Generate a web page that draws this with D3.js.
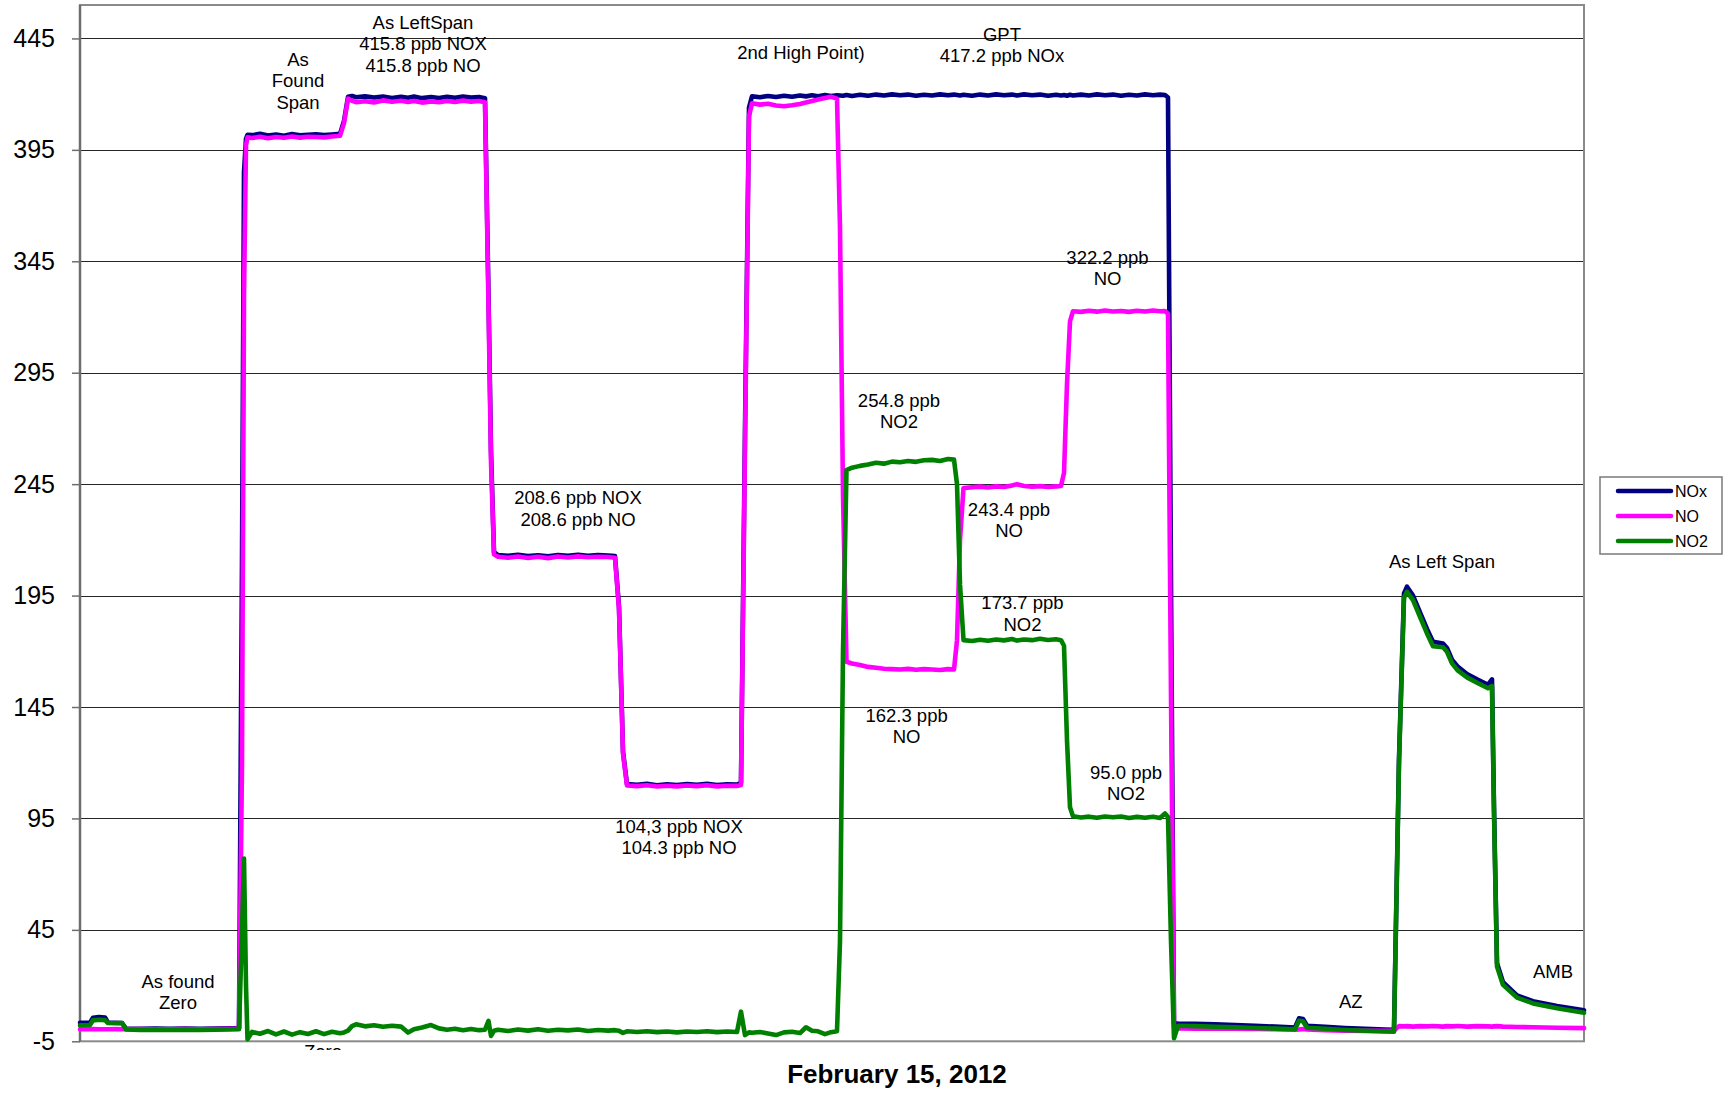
<!DOCTYPE html>
<html><head><meta charset="utf-8">
<script src="https://cdn.jsdelivr.net/npm/d3@7"></script>
<style>
body{margin:0;background:#fff}
svg{display:block}
text{font-family:"Liberation Sans",Arial,Helvetica,sans-serif}
</style>
</head><body>
<svg id="chart" width="1723" height="1093"></svg>
<script>
// ---- data (logger sample number, ppb) ----
const sampleNo = [
 0,10,13,19,25,28,36,42,46,60,75,90,105,120,135,150,159,
 162,164,166,167.5,
 172,180,188,196,204,212,220,228,236,244,252,260,
 264,268,
 272,276,285,294,303,312,321,328,334,342,351,359,367,375,383,391,399,405,
 408.5,411,414,
 418,428,438,448,458,468,478,488,498,508,518,528,535,
 539,543,547,
 557,567,577,587,597,607,617,627,637,647,657,
 661,665,669,
 672,680,688,696,704,712,720,726,732,738,745,751,757,
 760,763,766.5,
 772,780,788,796,804,812,820,828,836,844,852,860,868,874,
 877,880,883.5,
 892,900,908,916,924,932,937,944,952,960,968,976,981,
 984,987,990,993,
 1001,1009,1017,1025,1033,1041,1049,1057,1065,1073,1080,1085,1088,
 1091,1094,1098,
 1115,1135,1155,1175,1195,1215,
 1219,1223,1227,
 1245,1265,1285,1305,1314,
 1319,1324,1327,
 1333,1340,1347,1353,1363,1367,1372,1378,1387,1397,1408,1412,
 1414,1417,1423,1437,1453,1477,1504
];
const noxValues = [
 3.3,3.4,5.6,5.9,5.7,3.4,3.3,3.2,0.7,0.6,0.7,0.6,0.7,0.6,0.7,0.8,0.9,
 210,385,400,401.8,
 401.6,402.2,401.4,401.9,401.3,402.1,401.5,401.8,402.0,401.6,401.9,402.2,
 408,418.8,
 419.2,418.6,419.0,418.5,418.9,418.3,418.8,418.4,418.9,418.2,418.7,418.3,418.8,418.4,418.9,418.5,418.7,418.2,
 330,260,214.5,
 213.2,212.8,213.3,212.7,213.1,212.6,213.2,212.8,213.3,212.9,213.2,213.0,212.7,
 190,125,110.4,
 110.1,110.5,109.9,110.3,110.0,110.4,110.1,110.5,110.0,110.3,110.2,
 111,270,414,
 419.0,418.6,419.2,418.7,419.3,418.8,419.4,419.0,419.5,419.1,419.6,419.2,419.5,
 419.4,419.3,419.6,
 419.2,419.7,419.3,419.8,419.4,419.9,419.5,419.8,419.3,419.7,419.4,419.9,419.5,419.8,
 419.6,419.4,419.7,
 419.3,419.8,419.4,419.9,419.5,419.8,419.4,419.9,419.5,419.8,419.3,419.7,419.4,
 419.6,419.3,419.7,419.4,
 419.8,419.4,419.9,419.5,419.8,419.3,419.7,419.4,419.9,419.5,419.8,419.6,418.5,
 200,3.2,3.0,
 2.8,2.6,2.3,2.0,1.6,1.2,
 5.3,5.0,2.0,
 1.5,1.0,0.6,0.3,0.2,
 122,196,199.0,
 195.0,187.5,180.0,174.3,173.5,171.5,166.2,163.0,159.8,157.4,155.0,157.4,
 100,30.0,21.5,15.6,13.0,10.8,8.9
];
const noValues = [
 0.4,0.4,0.5,0.4,0.4,0.4,0.5,0.4,0.4,0.5,0.4,0.4,0.5,0.4,0.5,0.6,0.6,
 120,330,397,400.6,
 400.3,400.9,400.2,400.8,400.4,401.0,400.5,400.9,400.8,400.6,401.0,401.3,
 407,418.0,
 417.0,416.4,416.8,416.3,417.2,416.6,417.0,416.5,416.9,416.2,416.7,416.4,416.9,416.5,417.1,416.6,416.9,416.4,
 325,255,213.5,
 212.4,212.0,212.5,211.9,212.4,211.8,212.5,212.1,212.6,212.2,212.4,212.3,212.0,
 189,124,109.8,
 109.5,109.9,109.3,109.7,109.4,109.8,109.5,109.9,109.4,109.7,109.6,
 110,262,410,
 415.9,415.3,415.7,414.9,414.6,415.0,415.6,416.3,416.9,417.6,418.3,418.8,418.0,
 360,240,165.3,
 164.5,163.8,163.0,162.6,162.2,162.0,161.8,162.1,161.7,162.0,161.8,161.6,162.0,161.8,
 175,220,243.2,
 243.6,243.9,243.5,244.0,243.7,244.4,245.0,244.2,243.8,244.1,243.7,244.0,244.2,
 250,290,318,322.6,
 322.3,322.8,322.4,322.9,322.5,322.7,322.3,322.8,322.5,322.9,322.6,322.7,321.5,
 150,1.0,0.8,
 0.7,0.6,0.6,0.5,0.4,0.2,
 0.3,0.5,0.3,
 0.0,-0.2,-0.3,-0.3,-0.2,
 1.8,1.7,1.8,
 1.6,1.8,1.7,1.9,1.6,1.8,1.7,1.9,1.6,1.8,1.7,1.6,
 1.7,1.8,1.6,1.4,1.3,1.1,0.9
];
const no2Values = [
 2.2,2.3,4.4,4.7,4.5,3.2,3.1,3.2,0.3,0.1,0.2,0.1,0.2,0.1,0.2,0.3,0.4,
 45,77,20,-4.1,
 -0.8,-1.6,-0.4,-1.9,-0.6,-2.0,-0.9,-1.7,-0.5,-1.8,-0.7,-1.4,
 -1.0,-0.2,
 1.8,2.6,1.7,2.2,1.5,2.0,1.6,-1.1,0.4,1.2,2.3,0.8,0.2,0.6,0.0,0.5,0.0,0.2,
 4.2,-2.6,-0.3,
 0.2,-0.4,0.3,-0.2,0.4,-0.3,0.2,-0.1,0.3,-0.4,0.1,-0.2,0.0,
 -0.3,-1.2,-0.5,
 -0.8,-0.5,-0.9,-0.6,-1.0,-0.6,-0.8,-0.5,-0.9,-0.6,-0.8,
 8.3,-2.2,-1.0,
 -1.2,-0.8,-1.5,-2.2,-1.0,-0.7,-1.3,1.3,-0.3,-0.5,-1.8,-0.9,-0.5,
 40,170,251.3,
 252.4,253.2,253.8,254.6,254.2,255.1,254.8,255.4,255.0,255.7,255.9,255.4,256.3,256.0,
 245,200,175.0,
 174.6,175.2,174.7,175.3,174.9,175.5,174.8,175.3,175.0,175.6,175.1,175.4,175.0,
 172.5,130,100,96.0,
 95.4,95.8,95.3,95.9,95.5,95.9,95.2,95.7,95.3,95.8,95.2,97.2,95.6,
 40,-3.6,2.0,
 1.8,1.5,1.3,1.0,0.7,0.4,
 4.2,4.0,1.1,
 0.6,0.1,-0.3,-0.6,-0.7,
 120,194,196.7,
 193.0,185.5,178.0,172.3,171.8,169.8,164.6,161.3,158.3,155.9,153.4,154.4,
 98,28.5,20.3,14.6,12.0,9.8,7.8
];
const seriesNames = ["NOx", "NO", "NO2"];
const yTickValues = [-5, 45, 95, 145, 195, 245, 295, 345, 395, 445];
const xTitle = "February 15, 2012";
const annotationText = [
 ["As found", "Zero"],
 ["Zero"],
 ["As", "Found", "Span"],
 ["As LeftSpan", "415.8 ppb NOX", "415.8 ppb NO"],
 ["2nd High Point)"],
 ["GPT", "417.2 ppb NOx"],
 ["208.6 ppb NOX", "208.6 ppb NO"],
 ["104,3 ppb NOX", "104.3 ppb NO"],
 ["254.8 ppb", "NO2"],
 ["243.4 ppb", "NO"],
 ["173.7 ppb", "NO2"],
 ["162.3 ppb", "NO"],
 ["322.2 ppb", "NO"],
 ["95.0 ppb", "NO2"],
 ["As Left Span"],
 ["AZ"],
 ["AMB"]
];
// anchor of each annotation (sample number, ppb of first baseline)
const annotationAt = [
 [98, 18.9], [243, -12.6], [218, 432.6], [343, 449.2], [721, 435.8],
 [922, 443.9], [498, 235.9], [599, 88.5], [819, 279.8], [929, 230.7],
 [942.5, 188.8], [826.6, 138.3], [1027.5, 343.8], [1046, 112.8],
 [1362, 207.2], [1270.7, 10.1], [1473, 23.5]
];

// ---- drawing ----
const W = 1723, H = 1093;
const plot = {left: 80, right: 1584, top: 5, bottom: 1041.3};
const colors = ["#000080", "#FF00FF", "#008000"];
const svg = d3.select("#chart");

const x = d3.scaleLinear().domain([0, 1504]).range([plot.left, plot.right]);
const y = d3.scaleLinear().domain([-5, 460]).range([plot.bottom, plot.top]);

// gridlines
svg.append("g").selectAll("line")
  .data(yTickValues.filter(v => v !== -5))
  .join("line")
  .attr("x1", plot.left).attr("x2", plot.right)
  .attr("y1", d => Math.round(y(d)) + 0.5).attr("y2", d => Math.round(y(d)) + 0.5)
  .attr("stroke", "#262626").attr("stroke-width", 1);

// plot border
svg.append("rect")
  .attr("x", plot.left).attr("y", plot.top)
  .attr("width", plot.right - plot.left).attr("height", plot.bottom - plot.top)
  .attr("fill", "none").attr("stroke", "#8a8a8a").attr("stroke-width", 2);
svg.append("line")
  .attr("x1", plot.left).attr("x2", plot.left)
  .attr("y1", plot.top).attr("y2", plot.bottom)
  .attr("stroke", "#6e6e6e").attr("stroke-width", 2.5);

// y axis
const yAxis = d3.axisLeft(y).tickValues(yTickValues).tickSize(8).tickPadding(17)
  .tickFormat(d => String(d));
const gy = svg.append("g").attr("transform", `translate(${plot.left},0)`).call(yAxis);
gy.select(".domain").remove();
gy.selectAll(".tick line").attr("stroke", "#6e6e6e").attr("stroke-width", 1.5);
gy.selectAll(".tick text")
  .attr("font-size", 25).attr("fill", "#000")
  .attr("font-family", "'Liberation Sans', Arial, sans-serif");

// series
const allValues = [noxValues, noValues, no2Values];
const line = d3.line().x(d => x(d[0])).y(d => y(d[1]));
allValues.forEach((vals, i) => {
  const pts = sampleNo.map((t, k) => [t, vals[k]]);
  svg.append("path")
    .datum(pts)
    .attr("d", line)
    .attr("fill", "none")
    .attr("stroke", colors[i])
    .attr("stroke-width", 4.6)
    .attr("stroke-linejoin", "round")
    .attr("stroke-linecap", "round");
});

// annotations
svg.append("clipPath").attr("id", "annClip")
  .append("rect").attr("x", 0).attr("y", 0).attr("width", W).attr("height", 1050);
const ann = svg.append("g").attr("clip-path", "url(#annClip)");
annotationText.forEach((lines, i) => {
  const [t, v] = annotationAt[i];
  const tx = ann.append("text")
    .attr("x", x(t)).attr("y", y(v))
    .attr("text-anchor", "middle")
    .attr("font-size", 18.5).attr("fill", "#000");
  lines.forEach((s, j) => {
    tx.append("tspan").attr("x", x(t)).attr("dy", j === 0 ? 0 : 21.3).text(s);
  });
});

// x title
svg.append("text")
  .attr("x", (plot.left + plot.right) / 2 + 65).attr("y", 1082.5)
  .attr("text-anchor", "middle")
  .attr("font-size", 26).attr("font-weight", "bold").attr("fill", "#000")
  .text(xTitle);

// legend
const lg = svg.append("g");
lg.append("rect").attr("x", 1600).attr("y", 477).attr("width", 122).attr("height", 77)
  .attr("fill", "#fff").attr("stroke", "#7a7a7a").attr("stroke-width", 1.5);
seriesNames.forEach((name, i) => {
  const ly = 491 + i * 25;
  lg.append("line").attr("x1", 1618).attr("x2", 1671).attr("y1", ly).attr("y2", ly)
    .attr("stroke", colors[i]).attr("stroke-width", 4.5).attr("stroke-linecap", "round");
  lg.append("text").attr("x", 1675).attr("y", ly + 5.8)
    .attr("font-size", 16).attr("fill", "#000").text(name);
});
</script>
</body></html>
